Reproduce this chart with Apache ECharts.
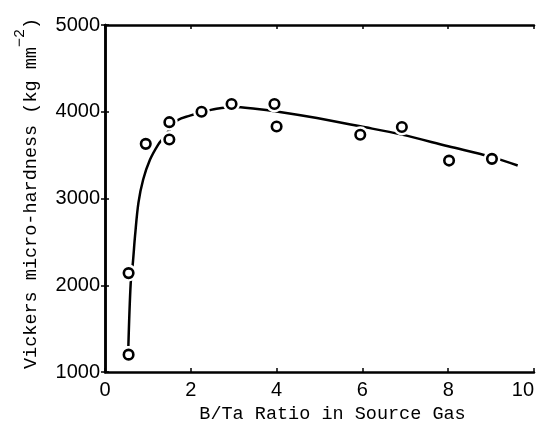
<!DOCTYPE html>
<html>
<head>
<meta charset="utf-8">
<script src="https://cdn.jsdelivr.net/npm/echarts@6/dist/echarts.min.js"></script>
<style>
  html, body { margin: 0; padding: 0; background: #fff; }
  #chart { width: 537px; height: 424px; }
</style>
</head>
<body>
<div id="chart"></div>
<script>
// Measured hardness values
var ratioX = [0.55, 0.55, 0.95, 1.5, 1.5, 2.25, 2.95, 3.95, 4.0, 5.95, 6.92, 8.02, 9.02];
var hardnessY = [1200, 2140, 3630, 3880, 3680, 4000, 4090, 4090, 3830, 3735, 3825, 3437, 3457];

// Fitted trend curve (hand-drawn through the data)
var curveX = [0.545, 0.60, 0.65, 0.70, 0.78, 0.89, 1.05, 1.24, 1.36, 1.5, 1.7, 1.98, 2.25, 2.6, 3.0, 3.5, 4.0, 4.94, 5.95, 6.92, 8.0, 9.0, 9.62];
var curveY = [1300, 2030, 2262, 2568, 2952, 3219, 3449, 3622, 3698, 3790, 3905, 3955, 3995, 4035, 4055, 4035, 4004, 3928, 3832, 3736, 3602, 3480, 3380];

// Axis ticks
var xTicks = [0, 2, 4, 6, 8, 10];
var yTicks = [1000, 2000, 3000, 4000, 5000];

function zip(a, b) {
  return a.map(function (v, i) { return [v, b[i]]; });
}

var chart = echarts.init(document.getElementById('chart'));

var axisLine = { show: true, lineStyle: { color: '#000', width: 2.5 } };
var tickStyle = { show: true, inside: true, length: 4, lineStyle: { color: '#000', width: 1.5 } };
var plain = function (v) { return String(v); };

chart.setOption({
  animation: false,
  backgroundColor: '#fff',
  grid: { left: 105, right: 3, top: 25, bottom: 52, outerBoundsMode: 'none', containLabel: false },
  xAxis: [{
    type: 'value',
    min: xTicks[0],
    max: xTicks[xTicks.length - 1],
    interval: 2,
    axisLine: axisLine,
    axisTick: tickStyle,
    splitLine: { show: false },
    axisLabel: { color: '#000', fontFamily: 'Liberation Sans', fontSize: 20, margin: 8, formatter: plain, alignMaxLabel: 'right' },
    name: 'B/Ta Ratio in Source Gas',
    nameLocation: 'middle',
    nameGap: 28,
    nameTextStyle: { color: '#000', fontFamily: 'Liberation Mono', fontSize: 18.5, padding: [0, 0, 0, 26] }
  }, {
    type: 'value',
    position: 'top',
    min: xTicks[0],
    max: xTicks[xTicks.length - 1],
    interval: 2,
    axisLine: axisLine,
    axisTick: tickStyle,
    splitLine: { show: false },
    axisLabel: { show: false }
  }],
  yAxis: [{
    type: 'value',
    min: yTicks[0],
    max: yTicks[yTicks.length - 1],
    interval: 1000,
    axisLine: axisLine,
    axisTick: tickStyle,
    splitLine: { show: false },
    axisLabel: { color: '#000', fontFamily: 'Liberation Sans', fontSize: 20, margin: 5, formatter: plain },
    name: '{a|Vickers micro-hardness (kg mm}{s|−2}{a|)}',
    nameLocation: 'middle',
    nameRotate: 90,
    nameGap: 64,
    nameTextStyle: {
      color: '#000',
      padding: [0, 0, 0, 10],
      rich: {
        a: { fontFamily: 'Liberation Mono', fontSize: 18.5, color: '#000', lineHeight: 28, verticalAlign: 'bottom' },
        s: { fontFamily: 'Liberation Mono', fontSize: 15, color: '#000', lineHeight: 28, verticalAlign: 'top' }
      }
    }
  }, {
    type: 'value',
    position: 'right',
    min: yTicks[0],
    max: yTicks[yTicks.length - 1],
    interval: 1000,
    axisLine: axisLine,
    axisTick: tickStyle,
    splitLine: { show: false },
    axisLabel: { show: false }
  }],
  series: [{
    type: 'line',
    data: zip(curveX, curveY),
    smooth: 0.35,
    showSymbol: false,
    symbol: 'none',
    lineStyle: { color: '#000', width: 2.5 },
    z: 2
  }, {
    // white halo that breaks the curve around each marker
    type: 'scatter',
    data: zip(ratioX, hardnessY),
    symbol: 'circle',
    symbolSize: 17,
    itemStyle: { color: '#fff', opacity: 1 },
    z: 3,
    silent: true
  }, {
    type: 'scatter',
    data: zip(ratioX, hardnessY),
    symbol: 'circle',
    symbolSize: 9.5,
    itemStyle: { color: '#fff', borderColor: '#000', borderWidth: 2.6, opacity: 1 },
    z: 4
  }]
});
</script>
</body>
</html>
